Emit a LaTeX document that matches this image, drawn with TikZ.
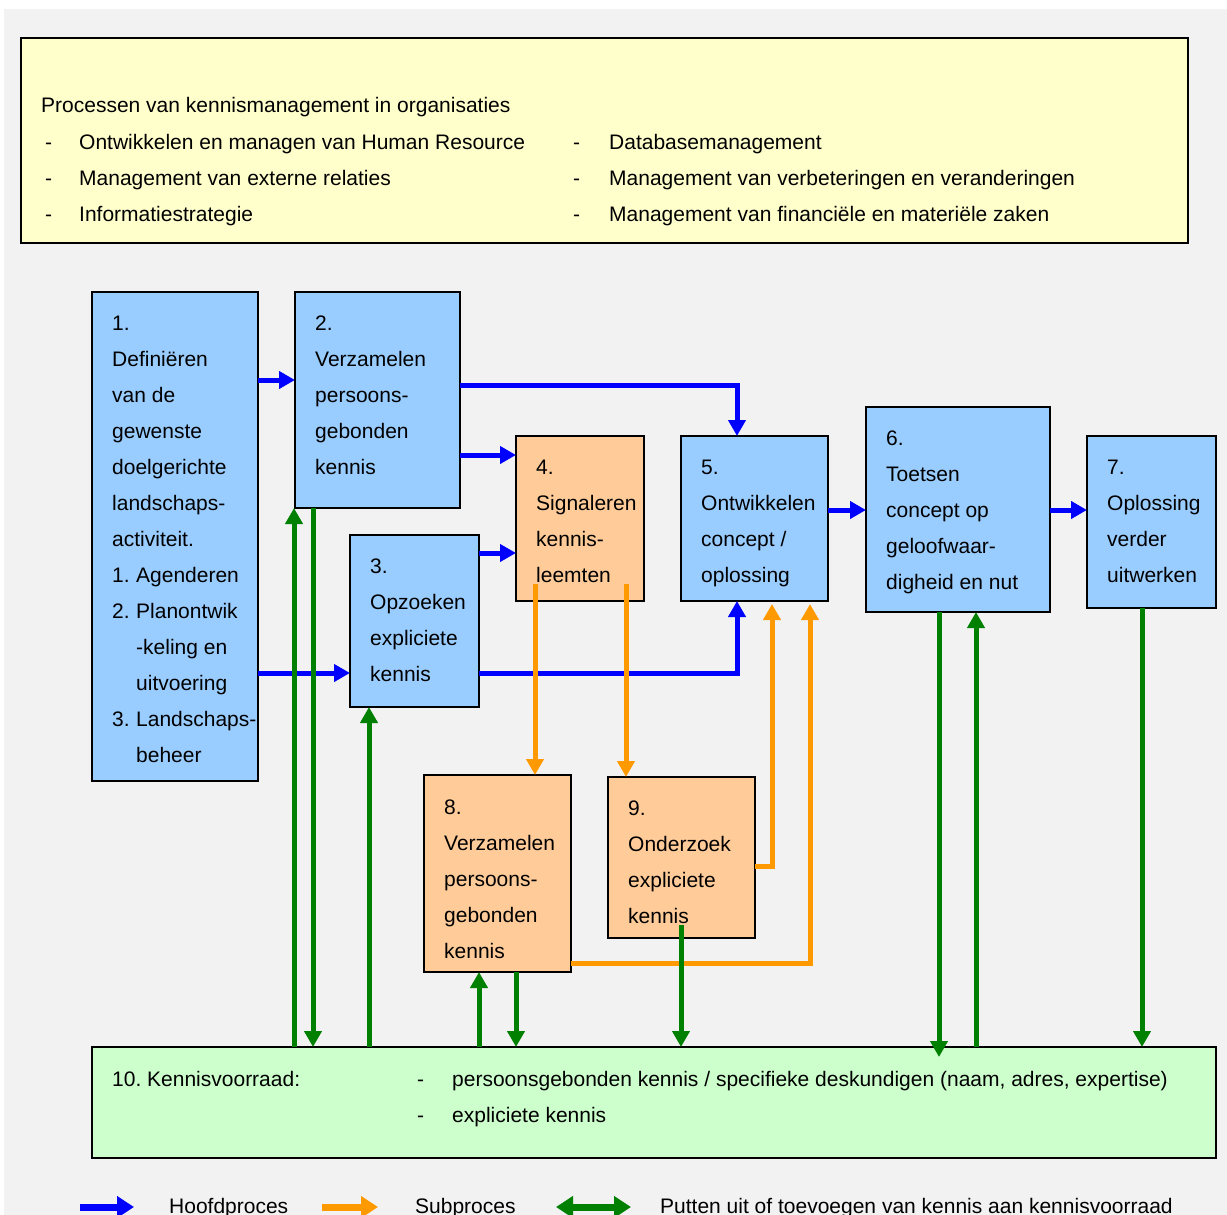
\documentclass[tikz,border=0pt]{standalone}
\usepackage{fontspec}
\setmainfont{Liberation Sans}
\usepackage{tikz}
\usetikzlibrary{arrows.meta}
\frenchspacing

\definecolor{procblue}{HTML}{99CCFF}
\definecolor{suborange}{HTML}{FFCC99}
\definecolor{stockgreen}{HTML}{CCFFCC}
\definecolor{notepad}{HTML}{FFFFCC}
\definecolor{backgrey}{HTML}{F2F2F2}
\definecolor{lineblue}{HTML}{0000FF}
\definecolor{lineorange}{HTML}{FF9900}
\definecolor{linegreen}{HTML}{008000}

\tikzset{
  box/.style={draw=black, line width=2pt, anchor=north west, inner sep=0pt, outer sep=0pt},
  txt/.style={anchor=base west, align=left, inner sep=0pt, font=\fontsize{21}{36}\selectfont},
  hoofd/.style={draw=lineblue, line width=5pt, -{Triangle[length=16pt,width=17pt]}},
  sub/.style={draw=lineorange, line width=5pt, -{Triangle[length=16pt,width=17pt]}},
  voorraad/.style={draw=linegreen, line width=5pt, -{Triangle[length=16pt,width=17pt]}}
}
\newcommand{\nr}[1]{\makebox[24pt][l]{#1}}

\begin{document}
\begin{tikzpicture}[x=1pt,y=-1pt]
\useasboundingbox (0,0) rectangle (1227,1215);
\fill[backgrey] (4,9) rectangle (1227,1215);

% kader met processen (base = laatste regel)
\node[box, fill=notepad, minimum width=1167, minimum height=205] at (21,38) (Kader) {};
\node[txt] at (41,113) (KaderTitel) {Processen van kennismanagement in organisaties};
\node[txt] at (45,221) (KaderStreepL) {-\\-\\-};
\node[txt] at (79,221) (KaderLinks) {Ontwikkelen en managen van Human Resource\\Management van externe relaties\\Informatiestrategie};
\node[txt] at (573,221) (KaderStreepR) {-\\-\\-};
\node[txt] at (609,221) (KaderRechts) {Databasemanagement\\Management van verbeteringen en veranderingen\\Management van financi\"ele en materi\"ele zaken};

% hoofdprocessen
\node[box, fill=procblue, minimum width=166, minimum height=489] at (92,292) (Definieren) {};
\node[box, fill=procblue, minimum width=165, minimum height=216] at (295,292) (Verzamelen) {};
\node[box, fill=procblue, minimum width=129, minimum height=172] at (350,535) (Opzoeken) {};
\node[box, fill=procblue, minimum width=147, minimum height=165] at (681,436) (Ontwikkelen) {};
\node[box, fill=procblue, minimum width=184, minimum height=205] at (866,407) (Toetsen) {};
\node[box, fill=procblue, minimum width=129, minimum height=172] at (1087,436) (Uitwerken) {};
% subprocessen
\node[box, fill=suborange, minimum width=128, minimum height=165] at (516,436) (Signaleren) {};
\node[box, fill=suborange, minimum width=147, minimum height=197] at (424,775) (Persoonlijk) {};
\node[box, fill=suborange, minimum width=147, minimum height=161] at (608,777) (Onderzoek) {};
% kennisvoorraad
\node[box, fill=stockgreen, minimum width=1124, minimum height=111] at (92,1047) (Voorraad) {};

\node[txt] at (112,762) (DefinierenTxt) {1.\\Defini\"eren\\van de\\gewenste\\doelgerichte\\landschaps-\\activiteit.\\\nr{1.}Agenderen\\\nr{2.}Planontwik\\\nr{}-keling en\\\nr{}uitvoering\\\nr{3.}Landschaps-\\\nr{}beheer};
\node[txt] at (315,474) (VerzamelenTxt) {2.\\Verzamelen\\persoons-\\gebonden\\kennis};
\node[txt] at (370,681) (OpzoekenTxt) {3.\\Opzoeken\\expliciete\\kennis};
\node[txt] at (536,582) (SignalerenTxt) {4.\\Signaleren\\kennis-\\leemten};
\node[txt] at (701,582) (OntwikkelenTxt) {5.\\Ontwikkelen\\concept /\\oplossing};
\node[txt] at (886,589) (ToetsenTxt) {6.\\Toetsen\\concept op\\geloofwaar-\\digheid en nut};
\node[txt] at (1107,582) (UitwerkenTxt) {7.\\Oplossing\\verder\\uitwerken};
\node[txt] at (444,958) (PersoonlijkTxt) {8.\\Verzamelen\\persoons-\\gebonden\\kennis};
\node[txt] at (628,923) (OnderzoekTxt) {9.\\Onderzoek\\expliciete\\kennis};
\node[txt] at (112,1086) (VoorraadTxt) {10. Kennisvoorraad:};
\node[txt] at (417,1122) (VoorraadStreep) {-\\-};
\node[txt] at (452,1122) (VoorraadLijst) {persoonsgebonden kennis / specifieke deskundigen (naam, adres, expertise)\\expliciete kennis};

% hoofdproces
\draw[hoofd] ([yshift=-88pt]Definieren.north east) -- ([yshift=-88pt]Verzamelen.north west);
\draw[hoofd] ([yshift=-381pt]Definieren.north east) -- ([yshift=-138pt]Opzoeken.north west);
\draw[hoofd] ([yshift=-93pt]Verzamelen.north east) -| ([xshift=56pt]Ontwikkelen.north west);
\draw[hoofd] ([yshift=-163pt]Verzamelen.north east) -- ([yshift=-19pt]Signaleren.north west);
\draw[hoofd] ([yshift=-18pt]Opzoeken.north east) -- ([yshift=-117pt]Signaleren.north west);
\draw[hoofd] ([yshift=-138pt]Opzoeken.north east) -| ([xshift=56pt]Ontwikkelen.south west);
\draw[hoofd] ([yshift=-74pt]Ontwikkelen.north east) -- ([yshift=-103pt]Toetsen.north west);
\draw[hoofd] ([yshift=-103pt]Toetsen.north east) -- ([yshift=-74pt]Uitwerken.north west);

% subproces
\draw[sub] ([xshift=19pt,yshift=17pt]Signaleren.south west) -- ([xshift=111pt]Persoonlijk.north west);
\draw[sub] ([xshift=110pt,yshift=17pt]Signaleren.south west) -- ([xshift=18pt]Onderzoek.north west);
\draw[sub] ([yshift=-89pt]Onderzoek.north east) -| ([xshift=91pt,yshift=-3pt]Ontwikkelen.south west);
\draw[sub] ([yshift=-188pt]Persoonlijk.north east) -| ([xshift=129pt,yshift=-3pt]Ontwikkelen.south west);

% putten uit of toevoegen
\draw[voorraad] ([xshift=202pt]Voorraad.north west) -- ([xshift=-1pt]Verzamelen.south west);
\draw[voorraad] ([xshift=18pt]Verzamelen.south west) -- ([xshift=221pt]Voorraad.north west);
\draw[voorraad] ([xshift=277pt]Voorraad.north west) -- ([xshift=19pt]Opzoeken.south west);
\draw[voorraad] ([xshift=387pt]Voorraad.north west) -- ([xshift=55pt]Persoonlijk.south west);
\draw[voorraad] ([xshift=92pt]Persoonlijk.south west) -- ([xshift=424pt]Voorraad.north west);
\draw[voorraad] ([xshift=73pt,yshift=13pt]Onderzoek.south west) -- ([xshift=589pt]Voorraad.north west);
\draw[voorraad] ([xshift=73pt]Toetsen.south west) -- ([xshift=847pt,yshift=-10pt]Voorraad.north west);
\draw[voorraad] ([xshift=884pt]Voorraad.north west) -- ([xshift=110pt]Toetsen.south west);
\draw[voorraad] ([xshift=55pt]Uitwerken.south west) -- ([xshift=1050pt]Voorraad.north west);

% legenda
\coordinate (HoofdA) at (80,1207);
\coordinate (HoofdB) at (134,1207);
\coordinate (SubA) at (322,1207);
\coordinate (SubB) at (378,1207);
\coordinate (PuttenA) at (556,1207);
\coordinate (PuttenB) at (631,1207);
\draw[draw=lineblue, line width=7pt, -{Triangle[length=17pt,width=21pt]}] (HoofdA) -- (HoofdB);
\draw[draw=lineorange, line width=7pt, -{Triangle[length=17pt,width=21pt]}] (SubA) -- (SubB);
\draw[draw=linegreen, line width=7pt, {Triangle[length=17pt,width=21pt]}-{Triangle[length=17pt,width=21pt]}] (PuttenA) -- (PuttenB);
\node[txt] at (169,1213) (HoofdTxt) {Hoofdproces};
\node[txt] at (415,1213) (SubTxt) {Subproces};
\node[txt] at (660,1213) (PuttenTxt) {Putten uit of toevoegen van kennis aan kennisvoorraad};
\end{tikzpicture}
\end{document}
